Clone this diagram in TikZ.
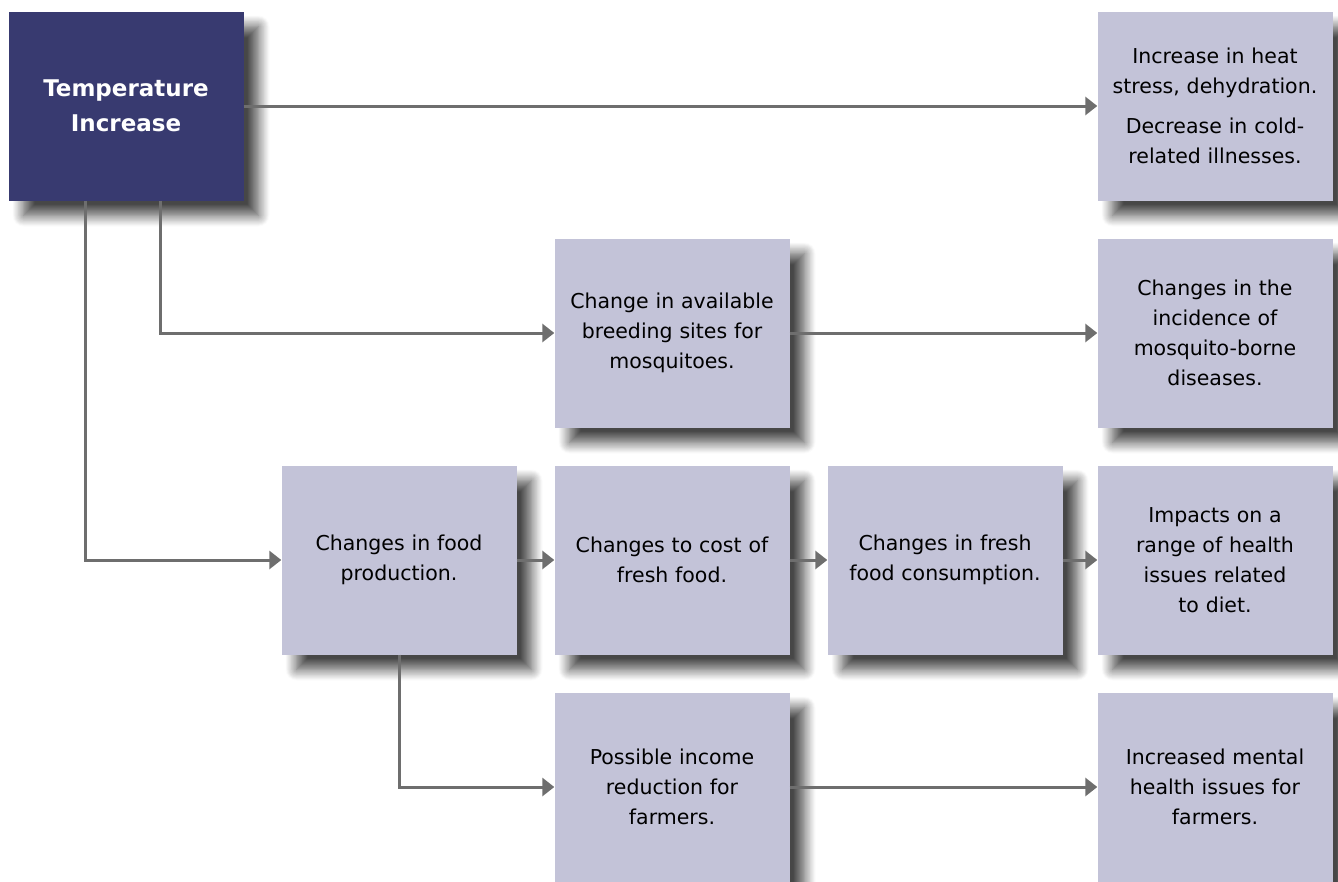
\documentclass[tikz,border=0pt]{standalone}
\usepackage{fontspec}
\setmainfont{DejaVu Sans}
\usetikzlibrary{arrows.meta}
\usetikzlibrary{shadows.blur}
\definecolor{navybox}{RGB}{56,58,112}
\definecolor{palebox}{RGB}{195,195,216}
\definecolor{linkgray}{RGB}{110,110,110}
\tikzset{%
	box/.style={shape=rectangle,inner sep=0pt,minimum width=235pt,minimum height=189pt,text width=228pt,align=center,fill=palebox,font=\fontsize{20.5}{30}\selectfont,blur shadow={shadow xshift=15pt,shadow yshift=-15pt,shadow blur radius=11pt,shadow blur steps=12,shadow opacity=72}},
	topbox/.style={box,fill=navybox,text=white,font=\fontsize{23}{35}\selectfont\bfseries},
	link/.style={draw=linkgray,line width=3pt,-{Triangle[length=12pt,width=18pt]}},
}

\begin{document}
\begin{tikzpicture}[x=1pt,y=-1pt]
			\useasboundingbox (0,0) rectangle (1338,881);
			\node[topbox] (temp) at (126,106) {Temperature\\Increase};
			\node[box] (heat) at (1215,106) {Increase in heat\\stress, dehydration.\\[10pt]Decrease in cold-\\related illnesses.};
			\node[box] (breed) at (672,333) {Change in available\\breeding sites for\\mosquitoes.};
			\node[box] (mosq) at (1215,333) {Changes in the\\incidence of\\mosquito-borne\\diseases.};
			\node[box] (food) at (399,560) {Changes in food\\production.};
			\node[box] (cost) at (672,560) {Changes to cost of\\fresh food.};
			\node[box] (consum) at (945,560) {Changes in fresh\\food consumption.};
			\node[box] (diet) at (1215,560) {Impacts on a\\range of health\\issues related\\to diet.};
			\node[box] (income) at (672,787) {Possible income\\reduction for\\farmers.};
			\node[box] (mental) at (1215,787) {Increased mental\\health issues for\\farmers.};
			% connectors
			\draw[link] (temp) -- (heat);
			\draw[link] ([xshift=34pt]temp.south) |- (breed.west);
			\draw[link] ([xshift=-41pt]temp.south) |- (food.west);
			\draw[link] (breed) -- (mosq);
			\draw[link] (food) -- (cost);
			\draw[link] (cost) -- (consum);
			\draw[link] (consum) -- (diet);
			\draw[link] (food.south) |- (income.west);
			\draw[link] (income) -- (mental);
		\end{tikzpicture}
\end{document}
